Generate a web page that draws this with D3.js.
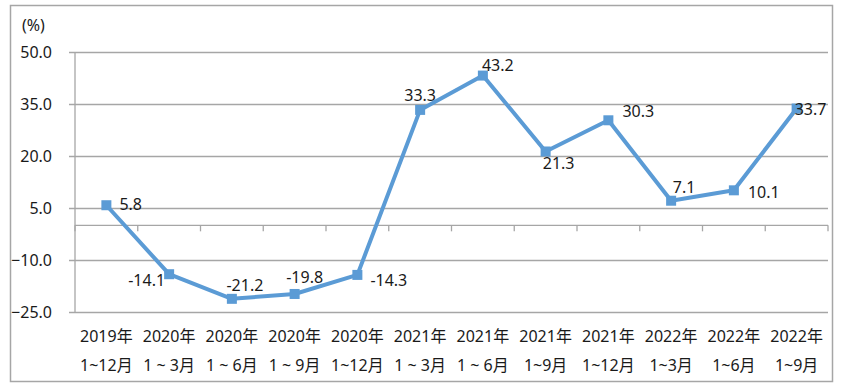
<!DOCTYPE html>
<html>
<head>
<meta charset="utf-8">
<script src="https://cdn.jsdelivr.net/npm/d3@7"></script>
<style>
  body { margin: 0; background: #fff; }
  text { font-family: "Noto Sans", "Noto Sans CJK SC", sans-serif; fill: #1a1a1a; }
</style>
</head>
<body>
<svg id="chart" width="843" height="388"></svg>
<script>
// data
const years = ["2019年", "2020年", "2020年", "2020年", "2020年", "2021年", "2021年", "2021年", "2021年", "2022年", "2022年", "2022年"];
const periods = ["1~12月", "1 ~ 3月", "1 ~ 6月", "1 ~ 9月", "1~12月", "1 ~ 3月", "1 ~ 6月", "1~9月", "1~12月", "1~3月", "1~6月", "1~9月"];
const values = [5.8, -14.1, -21.2, -19.8, -14.3, 33.3, 43.2, 21.3, 30.3, 7.1, 10.1, 33.7];
const yTicks = [50, 35, 20, 5, -10, -25];
// label placement: [dx, dy, anchor]
const labelPos = [
  [13, 5, "start"], [-4, 12, "end"], [13, -8, "middle"], [10, -11, "middle"],
  [13, 11, "start"], [0, -9, "middle"], [-1, -5, "start"], [13, 18, "middle"],
  [14, -3, "start"], [13, -8, "middle"], [14, 8, "start"], [-2, 6, "start"]
];

const margin = { top: 52, left: 75 },
      width = 828 - margin.left,
      height = 312 - margin.top;

const svg = d3.select("#chart");

// outer frame
svg.append("rect")
   .attr("x", 10.5).attr("y", 5.5)
   .attr("width", 822).attr("height", 376)
   .attr("fill", "none").attr("stroke", "#a6a6a6").attr("stroke-width", 1.5);

const g = svg.append("g").attr("transform", `translate(${margin.left},${margin.top})`);

const idx = values.map((d, i) => i);
const x = d3.scaleBand().domain(idx).range([0, width]).padding(0);
const y = d3.scaleLinear().domain([-25, 50]).range([height, 0]);

// gridlines + y labels
const yAxis = g.append("g")
   .attr("transform", "translate(-6,0)")
   .call(d3.axisLeft(y).tickValues(yTicks).tickSize(0).tickFormat(d3.format(".1f")))
   .attr("font-family", null);
yAxis.select(".domain").remove();
yAxis.selectAll(".tick line").attr("stroke", "#a6a6a6").attr("stroke-width", 1.3).attr("x1", 0).attr("x2", width + 6);
yAxis.selectAll(".tick text").attr("x", -17).attr("font-size", 16);

// y axis line
g.append("line")
   .attr("x1", 0).attr("x2", 0).attr("y1", 0).attr("y2", height)
   .attr("stroke", "#a6a6a6").attr("stroke-width", 1.3);

// category axis at zero
const x0 = y(0);
g.append("line")
   .attr("x1", 0).attr("x2", width).attr("y1", x0).attr("y2", x0)
   .attr("stroke", "#a6a6a6").attr("stroke-width", 1.3);
g.selectAll(".xtick")
   .data(idx.concat([values.length]))
   .enter().append("line")
   .attr("x1", d => d < values.length ? x(d) : width)
   .attr("x2", d => d < values.length ? x(d) : width)
   .attr("y1", x0).attr("y2", x0 + 6)
   .attr("stroke", "#a6a6a6").attr("stroke-width", 1.3);

// category labels
const cx = i => x(i) + x.bandwidth() / 2;
g.selectAll(".yr").data(years).enter().append("text")
   .attr("x", (d, i) => cx(i)).attr("y", height + 30)
   .attr("text-anchor", "middle").attr("font-size", 16).text(d => d);
g.selectAll(".pd").data(periods).enter().append("text")
   .attr("x", (d, i) => cx(i)).attr("y", height + 59)
   .attr("text-anchor", "middle").attr("font-size", 16).text(d => d);

// unit
svg.append("text").attr("x", 22).attr("y", 31).attr("font-size", 16).text("(%)");

// line
const line = d3.line().x((d, i) => cx(i)).y(d => y(d));
g.append("path")
   .datum(values)
   .attr("d", line)
   .attr("fill", "none").attr("stroke", "#5b9bd5").attr("stroke-width", 4)
   .attr("stroke-linejoin", "round");

g.selectAll(".mk").data(values).enter().append("rect")
   .attr("x", (d, i) => cx(i) - 5).attr("y", d => y(d) - 5)
   .attr("width", 10).attr("height", 10)
   .attr("fill", "#5b9bd5");

// data labels
g.selectAll(".lbl").data(values).enter().append("text")
   .attr("x", (d, i) => cx(i) + labelPos[i][0])
   .attr("y", (d, i) => y(d) + labelPos[i][1])
   .attr("text-anchor", (d, i) => labelPos[i][2])
   .attr("font-size", 16)
   .text(d => d.toFixed(1));
</script>
</body>
</html>
